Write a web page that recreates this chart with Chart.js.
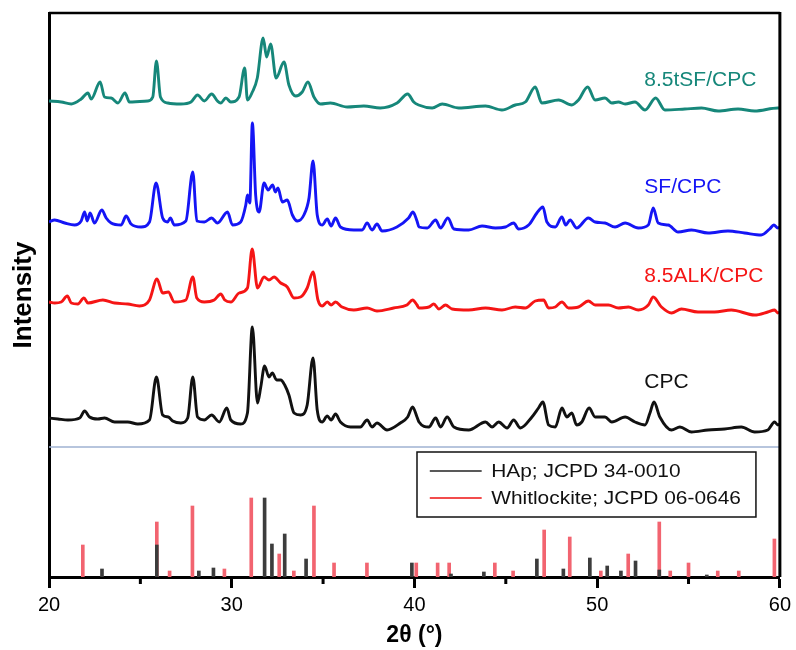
<!DOCTYPE html>
<html>
<head>
<meta charset="utf-8">
<script src="https://cdn.jsdelivr.net/npm/chart.js@4.4.1/dist/chart.umd.min.js"></script>
<style>
    html, body { margin: 0; padding: 0; background: #fff; }
    #wrap { width: 796px; height: 650px; }
</style>
</head>
<body>
<div id="wrap"><canvas id="xrd" width="796" height="650"></canvas></div>
<script>
// 2theta (deg), intensity (a.u., stacked offsets)
const tSF_CPC = [[20,476],[20.67,475],[21.22,473],[21.76,478],[22.13,484],[22.31,478],[22.8,495],[23.04,480],[23.4,479],[23.77,474],[24.16,484],[24.4,475],[25.4,476],[25.68,480],[25.88,516],[26.1,480],[26.5,474],[27.22,473],[27.77,475],[28.13,482],[28.5,476],[28.9,483],[29.22,476],[29.4,474],[29.68,479],[29.95,475],[30.4,480],[30.71,509],[30.86,477],[31.13,485],[31.4,499],[31.72,539],[31.91,520],[32.13,533],[32.43,499],[32.86,515],[33.13,492],[33.5,481],[33.86,485],[34.17,495],[34.5,480],[34.86,473],[35.4,474],[36.32,470],[37.23,471],[38.13,469],[39.05,474],[39.63,483],[39.96,475],[40.23,472],[40.97,469],[41.52,473],[42.43,469],[43.89,471],[44.79,467],[45.52,472],[46.07,475],[46.61,490],[46.97,474],[47.89,477],[48.61,472],[48.98,477],[49.48,490],[49.89,477],[50.43,479],[50.8,474],[51.16,475],[51.53,473],[52.07,475],[52.62,467],[53.2,479],[53.71,467],[54.8,468],[55.71,469],[56.62,466],[57.71,468],[58.62,466],[59.89,469],[60,469]];

const SF_CPC = [[20,355],[20.31,357],[20.86,354],[21.4,352],[21.76,356],[21.95,365],[22.09,356],[22.25,364],[22.49,354],[22.89,367],[23.13,359],[23.4,354],[23.95,352],[24.22,361],[24.49,353],[25.04,350],[25.5,355],[25.86,394],[26.22,359],[26.49,355],[26.64,359],[26.86,352],[27.49,356],[27.87,405],[28.09,356],[28.5,355],[28.9,359],[29.22,354],[29.77,365],[30.04,352],[30.49,355],[30.77,372],[30.86,382],[30.99,374],[31.13,454],[31.31,382],[31.5,365],[31.77,394],[31.99,387],[32.24,392],[32.39,385],[32.53,389],[32.77,375],[33.04,377],[33.32,362],[33.59,356],[33.95,362],[34.23,379],[34.45,416],[34.68,362],[34.95,352],[35.23,358],[35.44,351],[35.68,359],[35.95,350],[36.68,347],[37.14,347],[37.41,354],[37.68,347],[37.95,353],[38.23,346],[39.04,350],[39.68,359],[39.92,365],[40.14,356],[40.25,350],[40.7,349],[41.16,357],[41.43,349],[41.83,359],[42.16,348],[42.97,347],[43.7,351],[44.43,349],[44.98,350],[45.43,354],[45.7,348],[46.25,352],[46.7,364],[47.03,370],[47.25,355],[47.71,350],[48.07,360],[48.28,352],[48.52,357],[48.88,349],[49.52,359],[49.89,355],[50.43,354],[50.98,350],[51.53,354],[52.25,349],[52.8,352],[53.07,369],[53.34,354],[53.89,352],[54.43,345],[55.16,347],[56.07,344],[57.16,346],[58.07,344],[58.98,342],[59.44,348],[59.67,352],[59.89,349],[60,350]];

const ALK_CPC = [[20,275],[20.31,274],[20.67,275],[21,281],[21.22,274],[21.58,273],[21.91,279],[22.13,274],[22.95,277],[23.59,274],[24.31,273],[24.95,271],[25.5,277],[25.91,298],[26.22,284],[26.53,285],[26.86,275],[27.49,277],[27.87,300],[28.09,279],[28.5,275],[29.04,277],[29.4,283],[29.62,277],[29.95,275],[30.41,284],[30.86,289],[31.12,328],[31.41,289],[31.77,300],[32.04,297],[32.32,300],[32.68,294],[33.04,290],[33.41,279],[33.77,280],[34.13,289],[34.45,305],[34.72,277],[34.95,271],[35.23,275],[35.44,272],[35.68,275],[36.04,270],[36.68,267],[37.41,269],[37.95,266],[38.86,269],[39.59,272],[39.9,277],[40.14,272],[40.25,269],[40.79,270],[41.06,273],[41.34,268],[41.7,272],[42.06,268],[42.97,267],[43.89,269],[44.79,267],[45.52,270],[46.07,269],[46.61,276],[47.07,277],[47.34,269],[47.71,270],[48.07,275],[48.43,269],[48.98,270],[49.52,276],[49.89,272],[50.62,272],[51.16,269],[51.71,270],[52.25,267],[52.8,272],[53.07,280],[53.52,270],[54.07,264],[54.61,268],[55.52,265],[56.43,265],[57.34,267],[58.62,262],[59.34,265],[59.71,267],[59.89,264],[60,265]];

const CPC = [[20,159],[20.49,158],[21.04,157],[21.68,159],[21.95,166],[22.22,160],[22.67,158],[23.04,159],[23.59,155],[24.31,155],[24.86,153],[25.5,157],[25.88,200],[26.22,162],[26.53,160],[26.77,156],[27.22,154],[27.59,159],[27.87,200],[28.13,160],[28.5,157],[28.9,162],[29.32,155],[29.73,169],[29.95,157],[30.49,153],[30.86,164],[31.13,250],[31.41,174],[31.59,190],[31.8,211],[32.04,200],[32.22,204],[32.46,197],[32.68,197],[32.9,192],[33.13,182],[33.41,164],[33.77,162],[34.13,172],[34.45,219],[34.68,167],[34.95,155],[35.23,161],[35.44,157],[35.68,163],[35.95,155],[36.5,150],[37.04,150],[37.41,157],[37.68,150],[37.95,154],[38.5,147],[39.23,154],[39.63,160],[39.9,170],[40.14,160],[40.25,155],[40.79,150],[41.16,159],[41.43,150],[41.79,160],[42.16,150],[42.97,147],[43.89,155],[44.25,150],[44.61,155],[45.07,149],[45.43,157],[45.8,149],[46.43,160],[46.79,169],[47.03,175],[47.34,152],[47.71,150],[48.07,169],[48.34,160],[48.61,164],[48.88,152],[49.16,155],[49.56,169],[49.89,160],[50.43,160],[50.8,155],[51.53,160],[52.07,155],[52.62,152],[52.89,164],[53.11,175],[53.43,160],[54.07,147],[54.53,150],[55.16,145],[56.07,147],[56.98,148],[57.89,150],[58.62,145],[59.34,147],[59.71,155],[59.89,152],[60,153]];

// reference patterns (stick positions and relative heights)
const hapSticks = [[22.9,8],[25.9,32],[28.2,6],[29.0,9],[31.8,79],[32.2,33],[32.9,43],[34.07,18],[39.86,14],[42.0,3],[43.8,5],[46.7,18],[48.15,8],[49.6,19],[50.55,11],[51.3,6],[52.1,16],[53.4,7],[56.0,2]];
const whitSticks = [[21.85,32],[25.9,55],[26.6,6],[27.85,71],[29.6,8],[31.07,79],[32.6,23],[33.4,6],[34.5,71],[35.6,14],[37.4,14],[40.1,14],[41.27,14],[41.9,14],[44.4,14],[45.4,6],[47.1,47],[48.5,40],[50.2,6],[51.7,23],[53.4,55],[54.0,6],[55.0,14],[56.6,6],[57.75,6],[59.7,38]];

const separatorLevel = 130;
const minorTicks = [25, 35, 45, 55];
const sampleNames = ['8.5tSF/CPC', 'SF/CPC', '8.5ALK/CPC', 'CPC'];
const legendNames = ['HAp; JCPD 34-0010', 'Whitlockite; JCPD 06-0646'];

const fontFam = '"Liberation Sans", Arial, sans-serif';
const colors = ['#16877a', '#1515f5', '#f51515', '#111111'];

// where the sample names sit (x in deg, y in data units at the baseline)
const labelPos = [[52.58, 491], [52.58, 384], [52.58, 295], [52.58, 189]];

function toXY(arr) {
    return arr.map(function (p) { return { x: p[0], y: p[1] }; });
}

function traceSet(arr, color) {
    return {
        type: 'line',
        data: toXY(arr),
        borderColor: color,
        borderWidth: 2.9,
        pointRadius: 0,
        cubicInterpolationMode: 'monotone',
        borderJoinStyle: 'round',
        fill: false,
        order: 0
    };
}

const decor = {
    id: 'decor',
    afterDraw(chart) {
        const ctx = chart.ctx;
        const xs = chart.scales.x;
        const ys = chart.scales.y;
        const a = chart.chartArea;

        ctx.save();
        ctx.strokeStyle = '#000';
        ctx.lineWidth = 2.5;
        ctx.beginPath();
        ctx.moveTo(a.left, a.top);
        ctx.lineTo(a.right, a.top);
        ctx.stroke();
        ctx.lineWidth = 3;
        ctx.beginPath();
        ctx.moveTo(a.right, a.top - 1);
        ctx.lineTo(a.right, a.bottom);
        ctx.stroke();

        // minor ticks, shorter than the major ones
        ctx.beginPath();
        minorTicks.forEach(function (v) {
            const px = xs.getPixelForValue(v);
            ctx.moveTo(px, a.bottom);
            ctx.lineTo(px, a.bottom + 7);
        });
        ctx.stroke();

        // sample labels
        ctx.textBaseline = 'alphabetic';
        ctx.textAlign = 'left';
        ctx.font = '20px ' + fontFam;
        sampleNames.forEach(function (name, i) {
            ctx.save();
            ctx.translate(xs.getPixelForValue(labelPos[i][0]), ys.getPixelForValue(labelPos[i][1]));
            ctx.scale(1.05, 1);
            ctx.fillStyle = colors[i];
            ctx.fillText(name, 0, 0);
            ctx.restore();
        });

        // legend box for the reference cards
        const bx0 = xs.getPixelForValue(40.14), bx1 = xs.getPixelForValue(58.69);
        const by0 = ys.getPixelForValue(125), by1 = ys.getPixelForValue(60);
        ctx.fillStyle = '#fff';
        ctx.fillRect(bx0, by0, bx1 - bx0, by1 - by0);
        ctx.lineWidth = 1.5;
        ctx.strokeStyle = '#111';
        ctx.strokeRect(bx0, by0, bx1 - bx0, by1 - by0);

        const lx0 = xs.getPixelForValue(40.84), lx1 = xs.getPixelForValue(43.68);
        const tx = xs.getPixelForValue(44.2);
        const rows = [106, 79];
        const lineCols = ['#222', '#ee1111'];
        ctx.font = '19px ' + fontFam;
        ctx.textBaseline = 'middle';
        rows.forEach(function (r, i) {
            const py = ys.getPixelForValue(r);
            ctx.strokeStyle = lineCols[i];
            ctx.lineWidth = 1.5;
            ctx.beginPath();
            ctx.moveTo(lx0, py);
            ctx.lineTo(lx1, py);
            ctx.stroke();
            ctx.save();
            ctx.translate(tx, py + 1);
            ctx.scale(1.1, 1);
            ctx.fillStyle = '#111';
            ctx.fillText(legendNames[i], 0, 0);
            ctx.restore();
        });
        ctx.restore();
    }
};

new Chart(document.getElementById('xrd'), {
    type: 'line',
    data: {
        datasets: [
            traceSet(tSF_CPC, colors[0]),
            traceSet(SF_CPC, colors[1]),
            traceSet(ALK_CPC, colors[2]),
            traceSet(CPC, colors[3]),
            {
                type: 'line',
                data: [{ x: 20, y: separatorLevel }, { x: 60, y: separatorLevel }],
                borderColor: '#9fb2d2',
                borderWidth: 1.6,
                pointRadius: 0,
                order: 0
            },
            {
                type: 'bar',
                data: toXY(hapSticks),
                backgroundColor: '#3c3c3c',
                barThickness: 3,
                grouped: false,
                order: 1
            },
            {
                type: 'bar',
                data: toXY(whitSticks),
                backgroundColor: '#f26470',
                barThickness: 3,
                grouped: false,
                order: 2
            }
        ]
    },
    options: {
        responsive: false,
        animation: false,
        devicePixelRatio: 1,
        layout: { padding: { top: 13, right: 14, left: 0, bottom: 0 } },
        plugins: {
            legend: { display: false },
            tooltip: { enabled: false }
        },
        scales: {
            x: {
                type: 'linear',
                min: 20,
                max: 60,
                offset: false,
                ticks: {
                    stepSize: 10,
                    color: '#000',
                    font: { family: fontFam, size: 20 },
                    padding: 5,
                    maxRotation: 0
                },
                grid: {
                    display: true,
                    offset: false,
                    drawOnChartArea: false,
                    drawTicks: true,
                    tickLength: 11,
                    tickWidth: 3,
                    tickColor: '#000'
                },
                border: { display: true, color: '#000', width: 3 },
                title: {
                    display: true,
                    text: '2θ (°)',
                    color: '#000',
                    font: { family: fontFam, size: 23, weight: 'bold' },
                    padding: { top: 0, bottom: 1 }
                },
                afterFit(scale) { scale.height = 73; }
            },
            y: {
                min: 0,
                max: 564,
                ticks: { display: false },
                grid: { display: false, drawTicks: false },
                border: { display: true, color: '#000', width: 3 },
                title: {
                    display: true,
                    text: 'Intensity',
                    color: '#000',
                    font: { family: fontFam, size: 26, weight: 'bold' },
                    padding: { top: 8, bottom: 0 }
                },
                afterFit(scale) { scale.width = 49; }
            }
        }
    },
    plugins: [decor]
});
</script>
</body>
</html>
